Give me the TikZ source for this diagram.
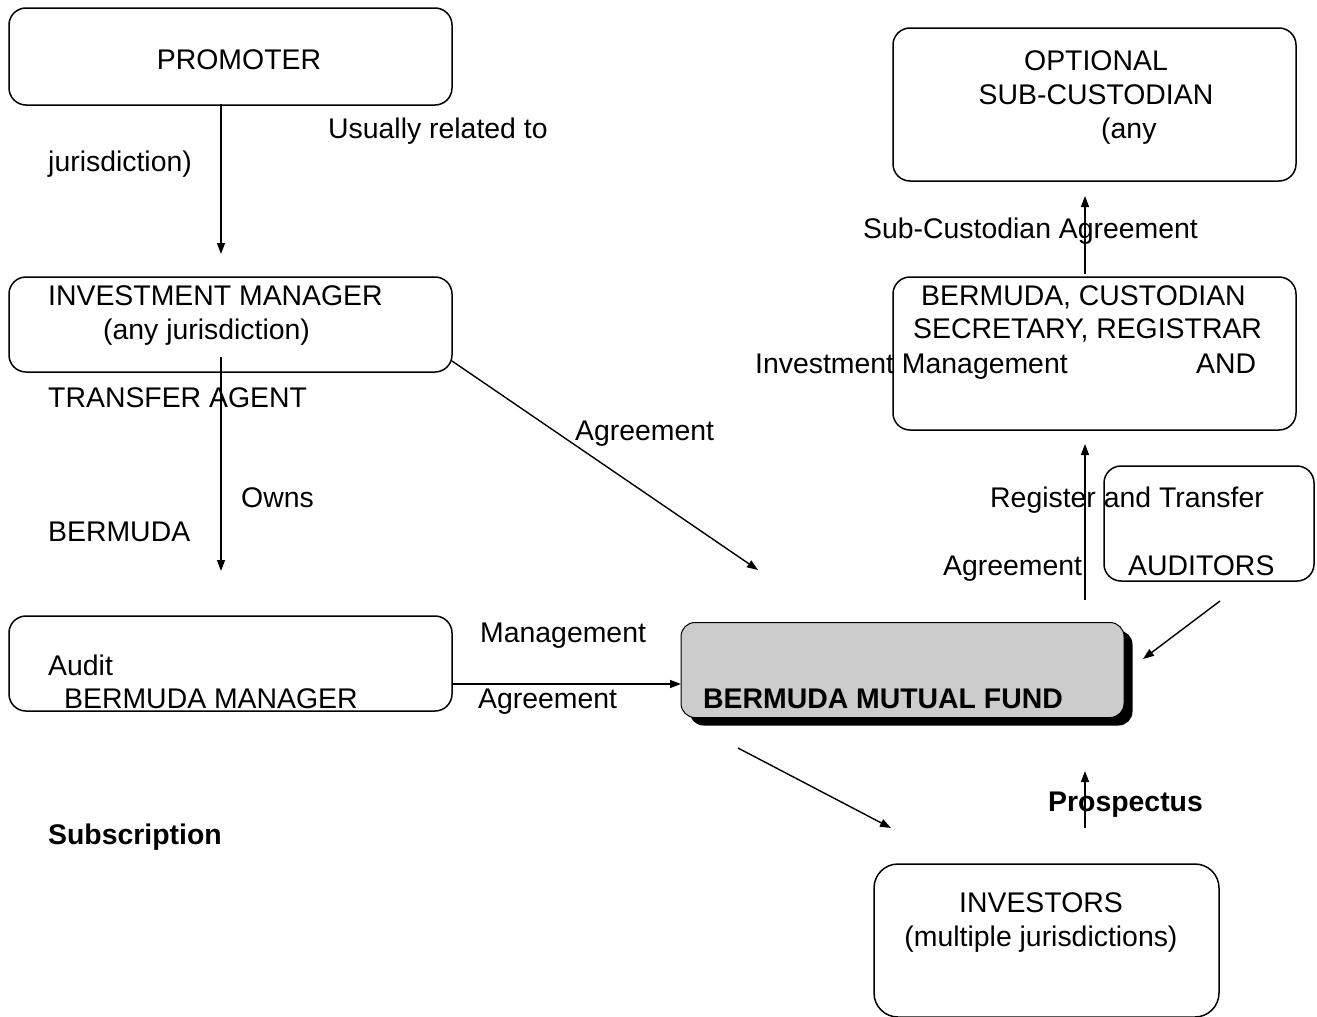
\documentclass[tikz,border=0pt]{standalone}
\usepackage{fontspec}
\setmainfont{Liberation Sans}
\usetikzlibrary{arrows.meta}
\begin{document}
\begin{tikzpicture}[x=1pt,y=-1pt,
  box/.style={draw=black,line width=1.5pt,rounded corners=17pt,inner sep=0pt},
  txt/.style={anchor=base west,inner sep=0pt,font=\fontsize{28.4}{34}\selectfont},
  btxt/.style={txt,font=\fontsize{28.4}{34}\selectfont\bfseries},
  arr/.style={line width=1.4pt,-{Triangle[length=11pt,width=8pt]}}]
\useasboundingbox (0,0) rectangle (1317,1017);
% boxes
\node[box,minimum width=443pt,minimum height=97pt] (promoter) at (230.5,56.5) {};
\node[box,minimum width=403pt,minimum height=153pt] (subcust) at (1094.5,104.5) {};
\node[box,minimum width=443pt,minimum height=95pt] (invmgr) at (230.5,324.5) {};
\node[box,minimum width=403pt,minimum height=153pt] (custodian) at (1094.5,353.5) {};
\node[box,minimum width=210pt,minimum height=115pt] (auditors) at (1209,523.5) {};
\node[box,minimum width=443pt,minimum height=95pt] (bmgr) at (230.5,663.5) {};
\node[box,rounded corners=24pt,minimum width=345pt,minimum height=153pt] (investors) at (1046.5,940.5) {};
% mutual fund with shadow
\node[fill=black,rounded corners=14pt,minimum width=443pt,minimum height=95pt,inner sep=0pt] (mfshadow) at (911,678) {};
\node[draw=black,line width=1pt,fill=black!20,rounded corners=14pt,minimum width=443pt,minimum height=95pt,inner sep=0pt] (fund) at (902.5,670) {};
% texts
\node[txt,anchor=base] (tpromoter) at (239,69) {PROMOTER};
\node[txt] (tusually) at (328,138) {Usually related to};
\node[txt] (tjuris) at (48,171) {jurisdiction)};
\node[txt,anchor=base] (toptional) at (1096,70) {OPTIONAL};
\node[txt,anchor=base] (tsubcust) at (1096,104) {SUB-CUSTODIAN};
\node[txt] (tany) at (1101,138) {(any};
\node[txt] (tsubagr) at (863,238) {Sub-Custodian Agreement};
\node[txt] (tinvmgr) at (48,305) {INVESTMENT MANAGER};
\node[txt] (tanyjur) at (103,339) {(any jurisdiction)};
\node[txt] (tbermcust) at (921,305) {BERMUDA, CUSTODIAN};
\node[txt] (tsecreg) at (913,338) {SECRETARY, REGISTRAR};
\node[txt] (tinvmgmt) at (755,373) {Investment Management};
\node[txt] (tand) at (1196,373) {AND};
\node[txt] (ttransfer) at (48,407) {TRANSFER AGENT};
\node[txt] (tagr1) at (575,440) {Agreement};
\node[txt] (towns) at (241,507) {Owns};
\node[txt] (tbermuda) at (48,541) {BERMUDA};
\node[txt] (tregister) at (990,507) {Register and Transfer};
\node[txt] (tagr2) at (943,575) {Agreement};
\node[txt] (tauditors) at (1128,575) {AUDITORS};
\node[txt] (tmgmt) at (480,642) {Management};
\node[txt] (taudit) at (48,675) {Audit};
\node[txt] (tbmgr) at (64,708) {BERMUDA MANAGER};
\node[txt] (tagr3) at (478,708) {Agreement};
\node[btxt] (tfund) at (703,708) {BERMUDA MUTUAL FUND};
\node[btxt] (tprosp) at (1048,811) {Prospectus};
\node[btxt] (tsubscr) at (48,844) {Subscription};
\node[txt,anchor=base] (tinvestors) at (1041,912) {INVESTORS};
\node[txt,anchor=base] (tmultiple) at (1041,946) {(multiple jurisdictions)};
% connector coordinates
\coordinate (a1s) at (221,104);  \coordinate (a1e) at (221,254);
\coordinate (a2s) at (221,357);  \coordinate (a2e) at (221,571);
\coordinate (a3s) at (452,361);  \coordinate (a3e) at (758,570);
\coordinate (a4s) at (452,684);  \coordinate (a4e) at (681,684);
\coordinate (a5s) at (738,748);  \coordinate (a5e) at (891,828);
\coordinate (a6s) at (1085,828); \coordinate (a6e) at (1085,771);
\coordinate (a7s) at (1085,600); \coordinate (a7e) at (1085,444);
\coordinate (a8s) at (1085,274); \coordinate (a8e) at (1085,196);
\coordinate (a9s) at (1220,601); \coordinate (a9e) at (1143,659);
% connectors
\draw[arr] (a1s) -- (a1e);
\draw[arr] (a2s) -- (a2e);
\draw[arr] (a3s) -- (a3e);
\draw[arr] (a4s) -- (a4e);
\draw[arr] (a5s) -- (a5e);
\draw[arr] (a6s) -- (a6e);
\draw[arr] (a7s) -- (a7e);
\draw[arr] (a8s) -- (a8e);
\draw[arr] (a9s) -- (a9e);
\end{tikzpicture}
\end{document}
